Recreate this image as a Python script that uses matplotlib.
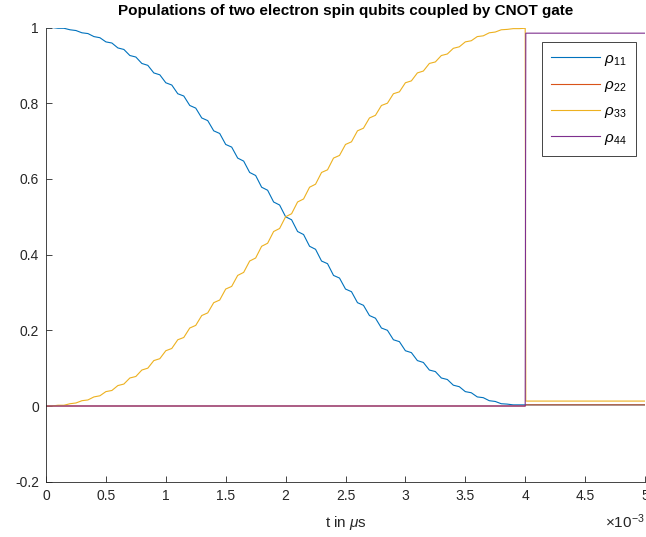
import numpy as np
import matplotlib
matplotlib.use("Agg")
import matplotlib.pyplot as plt
from matplotlib.ticker import FuncFormatter

t_gate = np.linspace(0, 4e-3, 81)

rho11_gate = [
    1.000, 1.000, 0.998, 0.998, 0.994, 0.992, 0.986, 0.984, 0.976, 0.973,
    0.962, 0.959, 0.946, 0.942, 0.926, 0.922, 0.905, 0.900, 0.880, 0.875,
    0.854, 0.848, 0.825, 0.819, 0.794, 0.787, 0.761, 0.754, 0.727, 0.720,
    0.691, 0.684, 0.655, 0.647, 0.617, 0.609, 0.578, 0.570, 0.539, 0.531,
    0.500, 0.492, 0.461, 0.453, 0.422, 0.414, 0.383, 0.376, 0.345, 0.338,
    0.309, 0.302, 0.273, 0.266, 0.239, 0.232, 0.206, 0.200, 0.175, 0.170,
    0.146, 0.141, 0.120, 0.115, 0.095, 0.091, 0.074, 0.070, 0.055, 0.051,
    0.038, 0.035, 0.024, 0.022, 0.014, 0.012, 0.006, 0.005, 0.003, 0.003,
    0.003,
]

rho33_gate = [
    0.000, 0.000, 0.002, 0.002, 0.006, 0.008, 0.014, 0.016, 0.024, 0.027,
    0.038, 0.041, 0.054, 0.058, 0.074, 0.078, 0.095, 0.100, 0.120, 0.125,
    0.146, 0.152, 0.175, 0.181, 0.206, 0.213, 0.239, 0.246, 0.273, 0.280,
    0.309, 0.316, 0.345, 0.353, 0.383, 0.391, 0.422, 0.430, 0.461, 0.469,
    0.500, 0.508, 0.539, 0.547, 0.578, 0.586, 0.617, 0.624, 0.655, 0.662,
    0.691, 0.698, 0.727, 0.734, 0.761, 0.768, 0.794, 0.800, 0.825, 0.830,
    0.854, 0.859, 0.880, 0.885, 0.905, 0.909, 0.926, 0.930, 0.945, 0.949,
    0.962, 0.965, 0.976, 0.978, 0.986, 0.988, 0.994, 0.995, 0.997, 0.997,
    0.998,
]

# after the CNOT step the populations stay flat
t_after = [4.005e-3, 5e-3]
rho11_after = [0.003, 0.003]
rho22_after = [0.003, 0.003]
rho33_after = [0.013, 0.013]
rho44_after = [0.985, 0.985]

# rho22 and rho44 sit at zero until the gate
t_flat = [0, 4e-3]
rho22_gate = [0.0, 0.0]
rho44_gate = [0.0, 0.0]

colors = ["#0072BD", "#D95319", "#EDB120", "#7E2F8E"]
labels = [r"$\rho_{11}$", r"$\rho_{22}$", r"$\rho_{33}$", r"$\rho_{44}$"]

plt.rcParams["font.family"] = ["Liberation Sans", "DejaVu Sans"]
plt.rcParams["mathtext.fontset"] = "custom"
plt.rcParams["mathtext.rm"] = "Liberation Sans"
plt.rcParams["mathtext.it"] = "Liberation Sans:italic"
plt.rcParams["axes.unicode_minus"] = False

W, H = 646, 537
fig = plt.figure(figsize=(W / 100, H / 100), dpi=100)
ax = fig.add_axes([46 / W, 1 - 481.7 / H, (645 - 46) / W, (481.7 - 27.5) / H])

series = [
    (list(t_gate) + t_after, rho11_gate + rho11_after),
    (t_flat + t_after, rho22_gate + rho22_after),
    (list(t_gate) + t_after, rho33_gate + rho33_after),
    (t_flat + t_after, rho44_gate + rho44_after),
]
for (t, y), c, lab in zip(series, colors, labels):
    ax.plot(t, y, color=c, lw=0.8, label=lab)

ax.set_xlim(0, 5e-3)
ax.set_ylim(-0.2, 1)
ax.set_xticks(np.arange(0, 5.01e-3, 0.5e-3))
ax.set_yticks(np.arange(-0.2, 1.01, 0.2))
ax.xaxis.set_major_formatter(FuncFormatter(lambda v, p: f"{v * 1e3:g}"))
ax.yaxis.set_major_formatter(FuncFormatter(lambda v, p: f"{round(v, 1):g}"))

dark = "#262626"
for side in ["top", "right"]:
    ax.spines[side].set_visible(False)
for side in ["left", "bottom"]:
    ax.spines[side].set_color(dark)
    ax.spines[side].set_linewidth(0.6)
ax.tick_params(direction="in", length=4, width=0.6, colors=dark, labelsize=10, pad=5)

ax.set_title("Populations of two electron spin qubits coupled by CNOT gate",
             fontsize=11, fontweight="bold", pad=9)
ax.set_xlabel(r"t in $\mu$s", fontsize=11, color=dark, labelpad=8)
fig.text(605 / W, 1 - 522 / H, r"$\times$10$^{-3}$", fontsize=11, color=dark,
         va="center", ha="left")

leg = ax.legend(loc="upper left", bbox_to_anchor=(541.5 / W, 1 - 42.5 / H),
                bbox_transform=fig.transFigure, fancybox=False, edgecolor=dark,
                framealpha=1, fontsize=11, handlelength=3.2, handletextpad=0.3,
                labelspacing=0.68, borderpad=0.6, borderaxespad=0)
leg.get_frame().set_linewidth(0.6)

fig.savefig("out.png", dpi=100)
